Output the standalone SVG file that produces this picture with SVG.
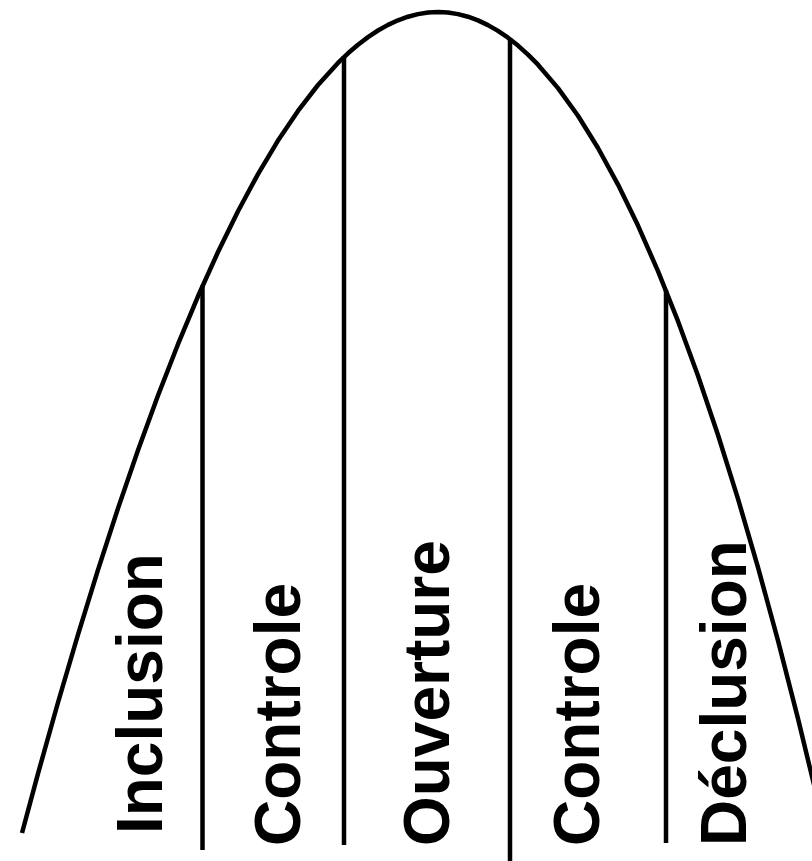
<svg xmlns="http://www.w3.org/2000/svg" width="812" height="861" viewBox="0 0 812 861">
  <style>
    .ln { fill: none; stroke: #000; stroke-width: 4.5; stroke-linejoin: round; }
    .lbl { font-family: "Liberation Sans", Arial, sans-serif; font-weight: bold; font-size: 64px; fill: #000; }
  </style>
  <rect width="812" height="861" fill="#fff"/>
  <g id="curve">
    <polyline class="ln" points="22,833 38,773.6 58,702.5 78,634.6 98,569.9 118,508.4 138,450.3 158,395.5 178,344.2 198,296.3 218,252 238,211.2 258,174.1 278,140.6 298,110.9 318,85 338,62.9 348,53.3 358,44.7 368,37.1 378,30.5 388,24.9 398,20.3 408,16.7 418,14.1 428,12.5 438,12 448,12.5 458,14.1 468,16.7 478,20.4 488,25.1 498,30.9 508,37.7 518,45.6 528,54.6 538,64.7 558,88.1 578,115.8 598,148 618,184.6 638,225.6 658,271.1 678,321.2 698,375.8 718,435 738,498.9 758,567.4 778,640.6 798,718.6 818,801.3 838,888.8"/>
  </g>
  <g id="dividers">
    <line class="ln" x1="202.5" y1="285" x2="202.5" y2="850"/>
    <line class="ln" x1="344" y1="56" x2="344" y2="845"/>
    <line class="ln" x1="510" y1="38" x2="510" y2="861"/>
    <line class="ln" x1="666" y1="290" x2="666" y2="843"/>
  </g>
  <g id="label-inclusion">
    <text class="lbl" transform="translate(161.5,834) rotate(-90)">Inclusion</text>
  </g>
  <g id="label-controle-1">
    <text class="lbl" transform="translate(299.5,846) rotate(-90)">Controle</text>
  </g>
  <g id="label-ouverture">
    <text class="lbl" transform="translate(449,846) rotate(-90)">Ouverture</text>
  </g>
  <g id="label-controle-2">
    <text class="lbl" transform="translate(599,846) rotate(-90)">Controle</text>
  </g>
  <g id="label-declusion">
    <text class="lbl" transform="translate(745.5,846) rotate(-90)">Déclusion</text>
  </g>
</svg>
